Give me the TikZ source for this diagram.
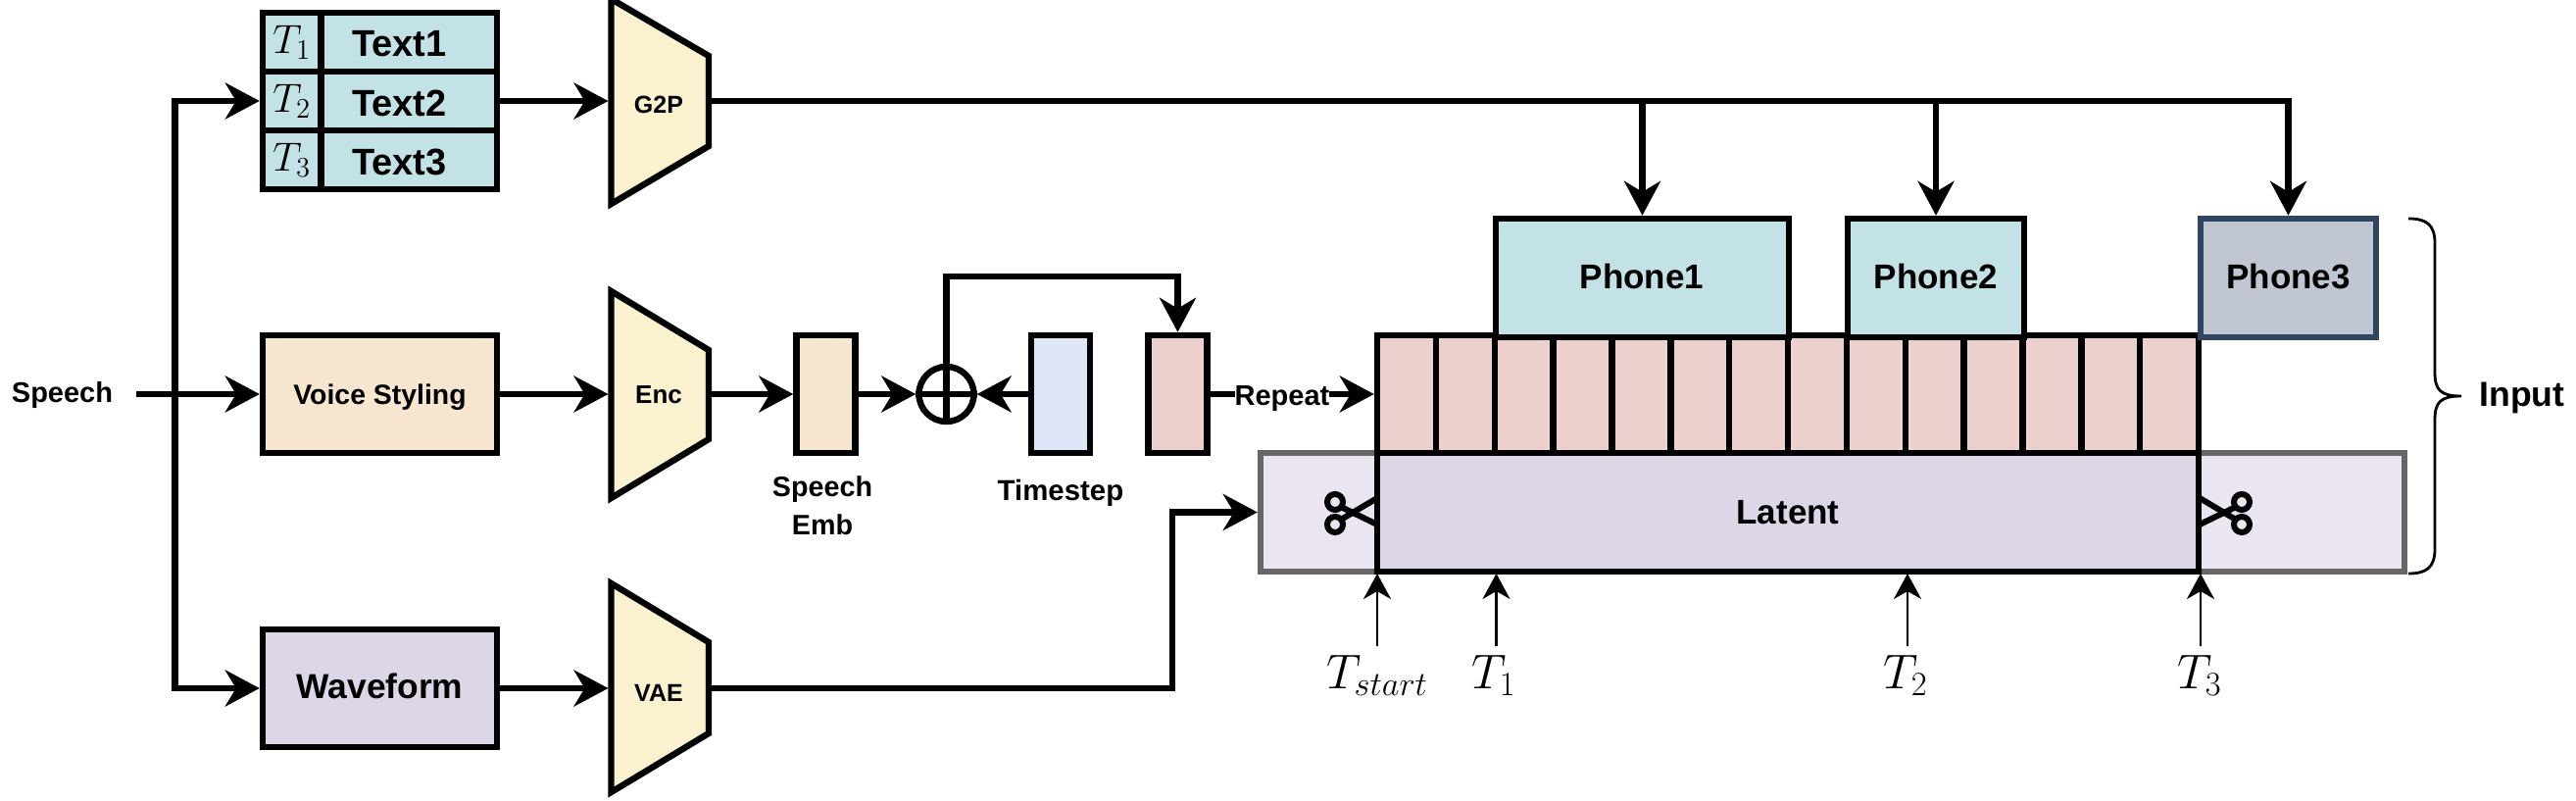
\documentclass[tikz,border=0pt]{standalone}
\usepackage{fontspec}
\setmainfont{Liberation Sans}
\usetikzlibrary{arrows.meta,calc}
\definecolor{tealfill}{HTML}{C3E2E5}
\definecolor{sandfill}{HTML}{F6E6CF}
\definecolor{yellowfill}{HTML}{FAF1CF}
\definecolor{pinkfill}{HTML}{ECD0CE}
\definecolor{bluefill}{HTML}{DEE6F8}
\definecolor{lilacfill}{HTML}{DDD6E6}
\definecolor{palefill}{HTML}{EAE5F1}
\definecolor{slatefill}{HTML}{C0C7D2}
\definecolor{slateline}{HTML}{2F4560}
\definecolor{greyline}{HTML}{666666}
\newcommand{\ptfont}[1]{\fontsize{#1pt}{#1pt}\selectfont\bfseries}
\tikzset{
  x=0.5pt,y=-0.5pt,
  wire/.style={line width=3.2pt,line join=miter},
  flow/.style={wire,-{Stealth[length=17.5pt,width=18.5pt,inset=5.5pt]}},
  thin flow/.style={line width=1.3pt,-{Stealth[length=13pt,width=14pt,inset=4pt]}},
  blockbox/.style 2 args={draw=black,line width=3.2pt,rectangle,inner sep=0pt,minimum width=#1*0.5pt,minimum height=#2*0.5pt,align=center},
  codec/.style={draw=black,line width=3.2pt,fill=yellowfill,line join=miter},
  lbl/.style={inner sep=0pt,align=center},
  mathlbl/.style={inner sep=0pt},
}
\begin{document}
\begin{tikzpicture}
\useasboundingbox (0,0) rectangle (2628,817);
% coordinates
\coordinate (g2pin) at (620.5,103);
\coordinate (g2pout) at (723,103);
\coordinate (encin) at (620.5,402);
\coordinate (encout) at (723,402);
\coordinate (vaein) at (620.5,702);
\coordinate (vaeout) at (723,702);
\coordinate (branch) at (178.5,402);
\coordinate (speechend) at (139,402);
\coordinate (vaecorner) at (1196,702);
% text table
\foreach \r/\y in {1/43,2/103,3/163}{
  \node[blockbox={59.5}{60},fill=tealfill] (tc\r) at (297.75,\y) {};
  \node[blockbox={179.5}{60},fill=tealfill] (tx\r) at (417.25,\y) {};
  \node[mathlbl,font=\fontsize{22.5pt}{24pt}\selectfont] (tm\r) at (tc\r.center) {$T_{\r}$};
  \node[lbl,font=\ptfont{19}] (tt\r) at ($(tx\r.center)+(-10,2)$) {Text\r};
}
% left column boxes
\node[blockbox={239}{120},fill=sandfill] (voice) at (387.5,402) {};
\node[lbl,font=\ptfont{14.2}] (voicelbl) at (387.5,405) {Voice Styling};
\node[blockbox={239}{120},fill=lilacfill] (wave) at (387.5,702) {};
\node[lbl,font=\ptfont{17.7}] (wavelbl) at (387.5,700) {Waveform};
\node[lbl,font=\ptfont{14.5}] (speech) at (63.5,403) {Speech};
% codecs
\draw[codec] (623.5,-1) -- (723,57) -- (723,149) -- (623.5,208) -- cycle;
\draw[codec] (623.5,297) -- (723,357) -- (723,448) -- (623.5,508) -- cycle;
\draw[codec] (623.5,595) -- (723,655) -- (723,748) -- (623.5,808) -- cycle;
\node[lbl,font=\ptfont{12.5}] (g2p) at (672,107) {G2P};
\node[lbl,font=\ptfont{13}] (enc) at (672,403) {Enc};
\node[lbl,font=\ptfont{12.5}] (vae) at (672,707) {VAE};
% speech fan-out
\draw[flow] (speechend) -- (voice.west);
\draw[flow] (branch) |- (tc2.west);
\draw[flow] (branch) |- (wave.west);
\draw[flow] (tx2.east) -- (g2pin);
\draw[flow] (voice.east) -- (encin);
\draw[flow] (wave.east) -- (vaein);
% middle
\node[blockbox={60}{120},fill=sandfill] (emb) at (842.5,402) {};
\node[circle,draw=black,line width=3.2pt,minimum size=28pt,inner sep=0pt] (plus) at (965.5,402) {};
\node[blockbox={60}{120},fill=bluefill] (time) at (1082,402) {};
\node[blockbox={60}{120},fill=pinkfill] (pink) at (1201.5,402) {};
\node[lbl,font=\ptfont{14.35}] (embtop) at (839,499) {Speech};
\node[lbl,font=\ptfont{14.35}] (embbot) at (839,535) {Emb};
\node[lbl,font=\ptfont{14.7}] (timelbl) at (1082,503) {Timestep};
\draw[flow] (encout) -- (emb.west);
\draw[flow] (emb.east) -- (plus.west);
\draw[flow] (time.west) -- (plus.east);
\draw[wire] (plus.north) -- (plus.south);
\draw[wire] (plus.west) -- (plus.east);
\coordinate (loop) at (965.5,282);
\draw[flow] (plus.north) -- (loop) -| (pink.north);
% latent band
\node[blockbox={119}{121},draw=greyline,fill=palefill] (extl) at (1345.5,522.5) {};
\node[blockbox={210}{121},draw=greyline,fill=palefill] (extr) at (2348,522.5) {};
\node[blockbox={838}{121},fill=lilacfill,font=\ptfont{17.5}] (latent) at (1824,522.5) {Latent};
% VAE to latent
\draw[flow] (vaeout) -- (vaecorner) |- (extl.west);
% repeat cells
\foreach \i in {1,...,14}{
  \node[blockbox={59.86}{120},fill=pinkfill] (r\i) at ({1405+(\i-0.5)*59.86},402) {};
}
\draw[flow] (pink.east) -- (r1.west);
\node[lbl,font=\ptfont{14.5},fill=white] (repeat) at (1308,407) {Repeat};
% phones
\node[blockbox={299}{121},fill=tealfill] (ph1) at (1675.5,283.5) {};
\node[blockbox={180}{121},fill=tealfill] (ph2) at (1975,283.5) {};
\node[blockbox={179}{121},draw=slateline,fill=slatefill] (ph3) at (2334.5,283.5) {};
\node[lbl,font=\ptfont{17.5}] (ph1lbl) at (1675,282) {Phone1};
\node[lbl,font=\ptfont{17.5}] (ph2lbl) at (1975,282) {Phone2};
\node[lbl,font=\ptfont{17.5}] (ph3lbl) at (2334.5,282) {Phone3};
\draw[flow] (g2pout) -| (ph3.north);
\draw[flow] (ph1.north |- g2pout) -- (ph1.north);
\draw[flow] (ph2.north |- g2pout) -- (ph2.north);
% scissors
\begin{scope}[line width=3pt]
  \draw (1362,512) circle[radius=8];
  \draw (1362,535) circle[radius=8];
  \draw (1368,517) -- (1405,535);
  \draw (1368,530) -- (1405,508);
  \draw (2287,512) circle[radius=8];
  \draw (2287,535) circle[radius=8];
  \draw (2281,517) -- (2244,535);
  \draw (2281,530) -- (2244,508);
\end{scope}
% time markers
\foreach \n/\x/\t/\lx in {s/1405/start/1405,a/1526.5/1/1524,b/1946/2/1944,c/2245/3/2244}{
  \coordinate (mk\n) at (\x,659);
  \coordinate (mt\n) at (\x,585);
  \draw[thin flow] (mk\n) -- (mt\n);
  \node[mathlbl,font=\fontsize{25pt}{28pt}\selectfont] (ml\n) at (\lx,689) {$T_{\t}$};
}
% brace
\draw[line width=1.4pt] (2457,223) .. controls (2474,223) and (2484,228) .. (2484,248)
  -- (2484,380) .. controls (2484,398) and (2490,404) .. (2511,404)
  .. controls (2490,404) and (2484,410) .. (2484,428)
  -- (2484,560) .. controls (2484,580) and (2474,585) .. (2457,585);
\node[lbl,font=\ptfont{17.8}] (input) at (2573,406) {Input};
\end{tikzpicture}
\end{document}
